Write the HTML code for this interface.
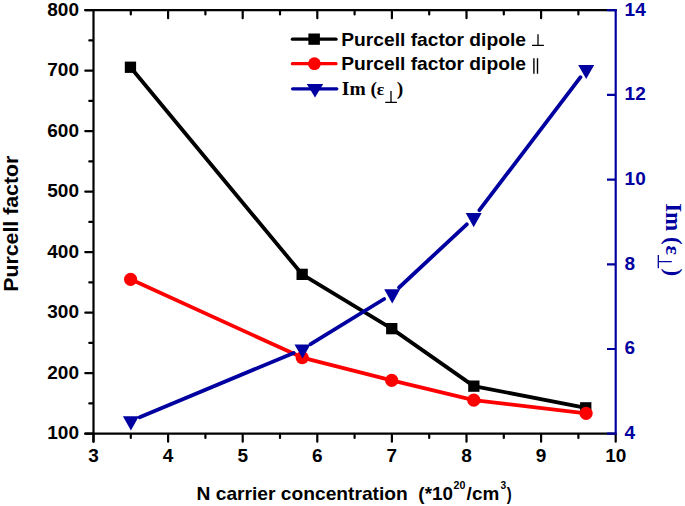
<!DOCTYPE html><html><head><meta charset="utf-8"><style>html,body{margin:0;padding:0;background:#fff;width:685px;height:506px;overflow:hidden}svg{display:block}text{font-family:"Liberation Sans",sans-serif;font-weight:bold}.s{font-family:"Liberation Serif",serif;font-weight:bold}.n{font-weight:normal}</style></head><body>
<svg width="685" height="506" viewBox="0 0 685 506">
<rect width="685" height="506" fill="#fff"/>
<path d="M85.3 433.70H92.5M89.3 403.45H92.5M85.3 373.20H92.5M89.3 342.95H92.5M85.3 312.70H92.5M89.3 282.45H92.5M85.3 252.20H92.5M89.3 221.95H92.5M85.3 191.70H92.5M89.3 161.45H92.5M85.3 131.20H92.5M89.3 100.95H92.5M85.3 70.70H92.5M89.3 40.45H92.5M85.3 10.20H92.5M93.50 434.7V441.7M130.80 434.7V438.0M130.80 11.2V14.5M168.10 434.7V441.7M168.10 11.2V18.2M205.40 434.7V438.0M205.40 11.2V14.5M242.70 434.7V441.7M242.70 11.2V18.2M280.00 434.7V438.0M280.00 11.2V14.5M317.30 434.7V441.7M317.30 11.2V18.2M354.60 434.7V438.0M354.60 11.2V14.5M391.90 434.7V441.7M391.90 11.2V18.2M429.20 434.7V438.0M429.20 11.2V14.5M466.50 434.7V441.7M466.50 11.2V18.2M503.80 434.7V438.0M503.80 11.2V14.5M541.10 434.7V441.7M541.10 11.2V18.2M578.40 434.7V438.0M578.40 11.2V14.5M615.70 434.7V441.7" stroke="#000" stroke-width="2.2" fill="none" stroke-linecap="round"/>
<path d="M85.3 10.2H615.7M85.3 433.7H615.7M93.5 10.2V441.7" stroke="#000" stroke-width="2.2" fill="none" stroke-linecap="round"/>
<path d="M615.7 9.1V434.8M607.0 433.70H615.7M607.0 349.00H615.7M607.0 264.30H615.7M607.0 179.60H615.7M607.0 94.90H615.7M607.0 10.20H615.7" stroke="#0000A0" stroke-width="2.2" fill="none"/>
<path d="M130.5 67.3L302.1 274.3L391.7 328.6L473.8 386.1L585.8 407.8" stroke="#000" stroke-width="3.8" fill="none" stroke-linejoin="round" stroke-linecap="round"/>
<rect x="124.8" y="61.6" width="11.3" height="11.3" fill="#000"/>
<rect x="296.5" y="268.7" width="11.3" height="11.3" fill="#000"/>
<rect x="386.1" y="323.0" width="11.3" height="11.3" fill="#000"/>
<rect x="468.2" y="380.5" width="11.3" height="11.3" fill="#000"/>
<rect x="580.1" y="402.2" width="11.3" height="11.3" fill="#000"/>
<path d="M130.6 279.3L302.2 357.6L391.7 380.4L473.8 400.1L586.1 413.3" stroke="#f00" stroke-width="3.8" fill="none" stroke-linejoin="round" stroke-linecap="round"/>
<circle cx="130.6" cy="279.3" r="6.6" fill="#f00"/>
<circle cx="302.2" cy="357.6" r="6.6" fill="#f00"/>
<circle cx="391.7" cy="380.4" r="6.6" fill="#f00"/>
<circle cx="473.8" cy="400.1" r="6.6" fill="#f00"/>
<circle cx="586.1" cy="413.3" r="6.6" fill="#f00"/>
<path d="M139.7 417.3L293.7 352.9M310.6 344.2L384.1 299.0M399.1 287.5L466.8 224.3M479.4 210.2L580.5 77.2" stroke="#0000A0" stroke-width="3.8" fill="none" stroke-linecap="round"/>
<path d="M122.9 416.3H138.9L130.9 430.4Z" fill="#0000A0"/>
<path d="M294.5 344.5H310.5L302.5 358.6Z" fill="#0000A0"/>
<path d="M384.2 289.3H400.2L392.2 303.4Z" fill="#0000A0"/>
<path d="M465.7 213.1H481.7L473.7 227.2Z" fill="#0000A0"/>
<path d="M578.2 64.9H594.2L586.2 79.0Z" fill="#0000A0"/>
<text x="79" y="439.4" font-size="19" text-anchor="end">100</text>
<text x="79" y="378.9" font-size="19" text-anchor="end">200</text>
<text x="79" y="318.4" font-size="19" text-anchor="end">300</text>
<text x="79" y="257.9" font-size="19" text-anchor="end">400</text>
<text x="79" y="197.4" font-size="19" text-anchor="end">500</text>
<text x="79" y="136.9" font-size="19" text-anchor="end">600</text>
<text x="79" y="76.4" font-size="19" text-anchor="end">700</text>
<text x="79" y="15.9" font-size="19" text-anchor="end">800</text>
<text x="93.5" y="462.4" font-size="19" text-anchor="middle">3</text>
<text x="168.1" y="462.4" font-size="19" text-anchor="middle">4</text>
<text x="242.7" y="462.4" font-size="19" text-anchor="middle">5</text>
<text x="317.3" y="462.4" font-size="19" text-anchor="middle">6</text>
<text x="391.9" y="462.4" font-size="19" text-anchor="middle">7</text>
<text x="466.5" y="462.4" font-size="19" text-anchor="middle">8</text>
<text x="541.1" y="462.4" font-size="19" text-anchor="middle">9</text>
<text x="615.7" y="462.4" font-size="19" text-anchor="middle">10</text>
<text x="624.6" y="439.0" font-size="19" fill="#0000A0">4</text>
<text x="624.6" y="354.3" font-size="19" fill="#0000A0">6</text>
<text x="624.6" y="269.6" font-size="19" fill="#0000A0">8</text>
<text x="624.6" y="184.9" font-size="19" fill="#0000A0">10</text>
<text x="624.6" y="100.2" font-size="19" fill="#0000A0">12</text>
<text x="624.6" y="15.5" font-size="19" fill="#0000A0">14</text>
<text x="196.50" y="499.6" font-size="18.5" textLength="211.32" lengthAdjust="spacingAndGlyphs">N carrier concentration</text>
<text x="418.38" y="499.6" font-size="18.5" textLength="34.53" lengthAdjust="spacingAndGlyphs">(*10</text>
<text x="453.53" y="488.8" font-size="10" textLength="11.87" lengthAdjust="spacingAndGlyphs">20</text>
<text x="466.64" y="499.6" font-size="18.5" textLength="32.62" lengthAdjust="spacingAndGlyphs">/cm</text>
<text x="500.44" y="488.8" font-size="10" textLength="5.67" lengthAdjust="spacingAndGlyphs">3</text>
<text x="506.70" y="499.6" font-size="18.5" textLength="4.94" lengthAdjust="spacingAndGlyphs">)</text>
<text transform="translate(18.1 291.82) rotate(-90)" font-size="20.5" textLength="136.14" lengthAdjust="spacingAndGlyphs">Purcell factor</text>
<g transform="translate(666.4 0) rotate(90)" fill="#0000A0">
<text class="s" x="203.15" y="0" font-size="23">Im (</text>
<text class="s" x="245.55" y="0" font-size="22">ε</text>
<text class="s" x="268.45" y="0" font-size="23">)</text>
</g>
<path d="M658.3 255V268.3M658.3 261.6H671.8" stroke="#0000A0" stroke-width="1.3" fill="none"/>
<path d="M292.4 39.2H336" stroke="#000" stroke-width="3.3" stroke-linecap="round"/>
<rect x="308.4" y="33.5" width="11.5" height="11.3" fill="#000"/>
<text x="341.30" y="45.9" font-size="18.5" textLength="184.63" lengthAdjust="spacingAndGlyphs">Purcell factor dipole</text>
<path d="M292.4 63.7H336" stroke="#f00" stroke-width="3.3" stroke-linecap="round"/>
<circle cx="314.4" cy="63.7" r="6.4" fill="#f00"/>
<text x="341.30" y="70.2" font-size="18.5" textLength="184.63" lengthAdjust="spacingAndGlyphs">Purcell factor dipole</text>
<path d="M292.6 88.8H336.8" stroke="#0000A0" stroke-width="3.3" stroke-linecap="round"/>
<path d="M306.8 84.1H323.2L315 97.6Z" fill="#0000A0"/>
<text class="s" x="341.85" y="95.2" font-size="19.5">Im (</text>
<text class="s" x="376.85" y="95.3" font-size="17.5">ε</text>
<text class="s" x="396.65" y="95.2" font-size="19.5">)</text>
<path d="M391 91V102.3M385.2 102.3H396.9" stroke="#000" stroke-width="1.3" fill="none"/>
<path d="M538 34.2V45.4M532 45.4H543.9" stroke="#000" stroke-width="1.3" fill="none"/>
<path d="M533.9 58.2V73.8M537.5 58.2V73.8" stroke="#000" stroke-width="1.4" fill="none"/>
</svg></body></html>
